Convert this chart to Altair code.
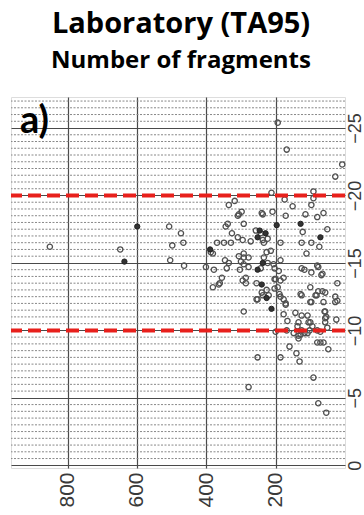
import altair as alt
import pandas as pd

# Open circles: (number of fragments, value)
open_x = [851, 648, 507, 498, 504, 473, 466, 464,
          194, 168, 8, 28, 212, 91, 91, 318, 174, 335, 151, 97, 298, 309, 237, 209, 240, 171, 114, 62, 80,
          338, 344, 292, 51, 257, 122, 326, 309, 295, 272, 237, 223, 234, 186, 125, 97, 74, 369, 349, 381,
          214, 111, 306, 292, 278, 226, 346, 300, 292, 223, 206, 186, 234, 401, 378, 303, 243, 203, 191,
          117, 97, 80, 65, 341, 278, 355, 286, 361, 295, 286, 255, 203, 186, 177, 100, 22, 381, 226, 237,
          220, 252, 194, 186, 177, 171, 82, 65, 22, 128, 97, 62, 292, 177, 143, 125, 166, 108, 59, 54, 57,
          105, 94, 137, 200, 168, 148, 128, 117, 102, 80, 51, 134, 80, 62, 48, 160, 252, 186, 140, 131, 91,
          278, 77, 54, 77, 68, 125, 200, 203, 77, 57, 28, 125, 85, 189, 171, 100, 28, 57, 57, 134, 100, 25,
          125, 71, 134, 108, 71, 364, 255, 240, 306, 292, 335, 387, 243, 329]
open_y = [-16.2, -16.0, -17.7, -16.3, -15.2, -17.2, -16.5, -14.8,
          -25.4, -23.4, -22.3, -21.4, -20.2, -20.3, -19.8, -19.6, -19.7, -19.3, -19.2, -19.3, -18.8, -18.5,
          -18.6, -18.8, -18.7, -18.5, -18.6, -18.7, -18.4,
          -17.9, -17.7, -17.9, -17.5, -17.4, -17.3, -17.2, -16.9, -16.7, -16.6, -16.7, -16.8, -16.5, -16.5,
          -16.5, -16.5, -16.2, -16.5, -16.5, -15.7,
          -15.9, -15.7, -15.5, -15.4, -15.4, -15.8, -15.2, -15.1, -14.9, -15.0, -14.9, -15.2, -15.4, -14.7,
          -14.5, -14.5, -14.6, -14.6, -14.4,
          -14.5, -14.3, -14.8, -14.2, -14.6, -14.7, -13.9, -13.9, -13.5, -13.7, -13.5, -13.5, -13.8, -13.7,
          -13.9, -13.2, -13.5, -13.2, -13.0, -12.6,
          -12.6, -12.3, -13.2, -12.5, -12.3, -11.9, -12.6, -12.9, -12.2, -12.7, -12.1, -12.1, -11.4, -11.2,
          -11.3, -11.1, -10.7, -11.1, -11.4, -11.0, -10.6,
          -10.6, -10.3, -10.3, -9.9, -10.0, -9.8, -9.7, -9.8, -10.0, -10.0, -10.2, -9.4, -9.1, -9.1, -8.6,
          -8.8, -8.0, -8.0, -8.3, -7.7, -6.5,
          -5.8, -4.6, -3.9, -14.7, -14.1, -14.6, -13.8, -13.1, -12.9, -12.8, -12.5, -12.6, -12.6, -12.7,
          -12.0, -12.1, -12.1, -11.4, -10.9, -10.6, -10.6, -10.8,
          -10.0, -9.9, -9.6, -9.8, -9.1, -13.4, -12.3, -12.8, -18.6, -15.7, -15.0, -15.8, -17.2, -16.5]

# Filled (dark) circles
fill_x = [636, 599, 197, 128, 246, 229, 71, 252, 389, 237, 252, 240, 226, 212]
fill_y = [-15.1, -17.7, -17.8, -17.9, -17.4, -17.2, -16.9, -16.9, -16.0, -15.0, -14.5, -13.4, -12.4, -11.6]

# Red reference lines
ref_y = [-20, -10]

x_ticks = [200, 400, 600, 800]
y_ticks = [-25, -20, -15, -10, -5, 0]
minor_y = [v for v in [round(-27 + 0.5 * i, 1) for i in range(55)] if v % 5 != 0]

open_df = pd.DataFrame({"n": open_x, "v": open_y})
fill_df = pd.DataFrame({"n": fill_x, "v": fill_y})
ref_df = pd.DataFrame({"v": ref_y})
minor_df = pd.DataFrame({"v": minor_y})

xscale = alt.Scale(domain=[0, 963], reverse=True, nice=False, zero=False)
yscale = alt.Scale(domain=[-27.3, 0.2], reverse=True, nice=False, zero=False)

xaxis = alt.Axis(values=x_ticks, title=None, labelAngle=270, labelAlign="right", labelBaseline="middle",
                 labelFont="Liberation Sans", labelFontSize=21, labelColor="#3a3a3a", labelPadding=4,
                 ticks=False, domain=False, grid=True, gridColor="#4a4a4a", gridWidth=1.2,
                 labelFlush=False, labelOverlap=False)
yaxis = alt.Axis(values=y_ticks, orient="right", title=None, labelAngle=270, labelAlign="center",
                 labelBaseline="top", labelFont="Liberation Sans", labelFontSize=18, labelColor="#3a3a3a",
                 labelPadding=1, labelOverlap=False, labelFlush=False,
                 ticks=False, domain=False, grid=True, gridColor="#4a4a4a", gridWidth=1.2)

X = alt.X("n:Q", scale=xscale, axis=xaxis)
Y = alt.Y("v:Q", scale=yscale, axis=yaxis)

minor = alt.Chart(minor_df).mark_rule(color="#888888", strokeWidth=1, strokeDash=[2, 1.5]).encode(
    y=alt.Y("v:Q", scale=yscale, axis=yaxis),
)
pts = alt.Chart(open_df).mark_point(shape="circle", size=28, filled=False, stroke="#505050",
                                    strokeWidth=1.3, opacity=1).encode(x=X, y=Y)
fpts = alt.Chart(fill_df).mark_point(shape="circle", size=28, filled=True, fill="#333333",
                                     stroke="#222222", strokeWidth=1, opacity=1).encode(x=X, y=Y)
refs = alt.Chart(ref_df).mark_rule(color="#e8201c", strokeWidth=4, strokeDash=[13, 6]).encode(
    y=alt.Y("v:Q", scale=yscale, axis=yaxis),
)
label = alt.Chart(pd.DataFrame({"t": ["a)"]})).mark_text(
    font="Lato", fontSize=38, fontWeight="bold", align="left", baseline="alphabetic", color="black"
).encode(text="t:N", x=alt.value(9), y=alt.value(36))

chart = alt.layer(minor, pts, fpts, refs, label).properties(
    width=334, height=371,
    autosize=alt.AutoSizeParams(type="none"),
    padding={"left": 11, "top": 97, "right": 19, "bottom": 47},
    title=alt.TitleParams(text="Laboratory (TA95)", subtitle="Number of fragments",
                          font="Open Sans", fontSize=29, fontWeight="bold", color="black",
                          subtitleFont="Open Sans", subtitleFontSize=24, subtitleFontWeight="bold",
                          subtitleColor="black", subtitlePadding=10, anchor="middle", offset=24, dx=3),
).configure_view(stroke="#404040", strokeWidth=1.5).configure(background="white")

chart.save("out.html", embed_options={"renderer": "svg", "actions": False})
